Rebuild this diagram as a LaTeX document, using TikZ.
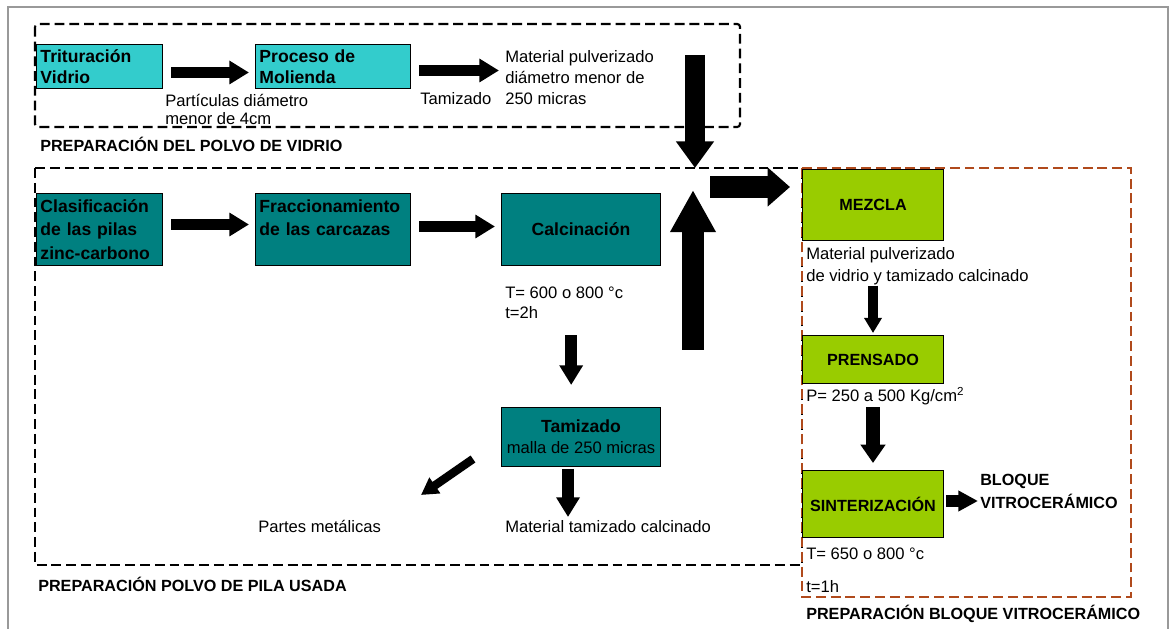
\documentclass[tikz,border=0pt]{standalone}
\usepackage{fontspec}
\setmainfont{Liberation Sans}
\usetikzlibrary{arrows.meta}
\definecolor{turquesa}{HTML}{33CCCC}
\definecolor{verdeazul}{HTML}{008080}
\definecolor{lima}{HTML}{99CC00}
\definecolor{marron}{HTML}{B04A1C}
\begin{document}
\begin{tikzpicture}[x=0.025cm, y=-0.025cm,
  caja/.style={draw=black, line width=0.7pt, anchor=north west, inner sep=2.8pt,
    font=\fontsize{12.5}{15}\selectfont\bfseries},
  texto/.style={anchor=north west, inner sep=0pt, align=left,
    font=\fontsize{11.8}{15}\selectfont},
  titulo/.style={anchor=north west, inner sep=0pt, align=left,
    font=\fontsize{11.5}{16.4}\selectfont\bfseries},
  marco/.style={line width=1.5pt, dash pattern=on 7pt off 3.5pt},
  flecha/.style={line width=8.5pt, -{Triangle[length=14pt,width=16pt]},
    shorten <=0.2cm, shorten >=0.15cm},
  flechota/.style={line width=14.5pt, -{Triangle[length=19pt,width=26pt]}}]
  \useasboundingbox (0,0) rectangle (1173,629);

  % marco exterior
  \draw[gray!80, line width=0.8pt] (8,629) -- (8,7) -- (1168,7) -- (1168,629);

  % zonas
  \draw[marco, rounded corners=2pt] (35,24) rectangle (740,127);
  \draw[marco] (35,168) rectangle (802,565);
  \draw[marco, draw=marron] (802,168) rectangle (1131,597);

  % polvo de vidrio
  \node[caja, fill=turquesa, minimum width=3.15cm, minimum height=1.1cm,
    text width=2.95cm, align=left] (trit) at (36,44) {Trituración\\Vidrio};
  \node[caja, fill=turquesa, minimum width=3.875cm, minimum height=1.1cm,
    text width=3.675cm, align=left] (proc) at (255,44) {Proceso de\\Molienda};
  \node[texto, font=\fontsize{11.8}{12.8}\selectfont] (partic) at (165,94)
    {Partículas diámetro\\menor de 4cm};
  \node[texto] (tamtxt) at (420,92) {Tamizado};
  \node[texto] (matpulv) at (505,50) {Material pulverizado\\diámetro menor de\\250 micras};
  \node[titulo] (tvidrio) at (40,137) {PREPARACIÓN DEL POLVO DE VIDRIO};

  % polvo de pila
  \node[caja, fill=verdeazul, minimum width=3.15cm, minimum height=1.8cm,
    text width=2.95cm, align=left, font=\fontsize{12.5}{16.7}\selectfont\bfseries]
    (clasif) at (36,193) {Clasificación\\de las pilas\\zinc-carbono};
  \node[caja, fill=verdeazul, minimum width=3.875cm, minimum height=1.8cm,
    text width=3.675cm, align=left, font=\fontsize{12.5}{16.7}\selectfont\bfseries]
    (fracc) at (255,193) {Fraccionamiento\\de las carcazas\\\mbox{}};
  \node[caja, fill=verdeazul, minimum width=3.975cm, minimum height=1.8cm]
    (calc) at (501,193) {Calcinación};
  \node[texto, font=\fontsize{11.8}{14.2}\selectfont] (tcalc) at (505,287)
    {T= 600 o 800 °c\\t=2h};
  \node[caja, fill=verdeazul, minimum width=3.975cm, minimum height=1.475cm,
    align=center] (tamiz) at (501,407)
    {Tamizado\\{\mdseries\fontsize{11.8}{15}\selectfont malla de 250 micras}};
  \node[texto] (partes) at (258,520) {Partes metálicas};
  \node[texto] (mattam) at (505,520) {Material tamizado calcinado};
  \node[titulo] (tpila) at (38,577) {PREPARACIÓN POLVO DE PILA USADA};

  % bloque vitroceramico
  \node[caja, fill=lima, minimum width=3.525cm, minimum height=1.775cm,
    font=\fontsize{11.5}{14}\selectfont\bfseries] (mezcla) at (802,169) {MEZCLA};
  \node[texto, font=\fontsize{11.8}{16}\selectfont] (mtext) at (806,247)
    {Material pulverizado\\de vidrio y tamizado calcinado};
  \node[caja, fill=lima, minimum width=3.525cm, minimum height=1.2cm,
    font=\fontsize{11.5}{14}\selectfont\bfseries] (prensado) at (802,335) {PRENSADO};
  \node[texto] (ptext) at (806,387) {P= 250 a 500 Kg/cm\textsuperscript{2}};
  \node[caja, fill=lima, minimum width=3.525cm, minimum height=1.675cm,
    font=\fontsize{11.5}{14}\selectfont\bfseries] (sint) at (802,470) {SINTERIZACIÓN};
  \node[texto] (stext) at (806,548) {T= 650 o 800 °c};
  \node[texto] (ttext) at (806,580) {t=1h};
  \node[titulo] (bloque) at (980,474) {BLOQUE\\VITROCERÁMICO};
  \node[titulo] (tbloque) at (806,605) {PREPARACIÓN BLOQUE VITROCERÁMICO};

  % flechas
  \draw[flecha] ([yshift=-0.15cm]trit.east) -- ([yshift=-0.15cm]proc.west);
  \draw[flecha] ([yshift=-0.1cm]proc.east) -- ([yshift=-0.1cm]proc.east -| matpulv.west);
  \draw[flecha] ([yshift=0.125cm]clasif.east) -- ([yshift=0.125cm]fracc.west);
  \draw[flecha] ([yshift=0.075cm]fracc.east) -- ([yshift=0.075cm]calc.west);
  \draw[flecha, shorten <=0.4cm, shorten >=0.55cm]
    ([xshift=0.175cm]tcalc.south) -- ([xshift=0.175cm]tcalc.south |- tamiz.north);
  \draw[flecha, shorten <=0.05cm, shorten >=0.075cm]
    ([xshift=-0.325cm]tamiz.south) -- ([xshift=-0.325cm]tamiz.south |- mattam.north);
  \coordinate (metal) at (421,495);
  \draw[flecha, line width=6pt, -{Triangle[length=12pt,width=13pt]},
    shorten <=0pt, shorten >=0pt] ([shift={(-28,-8)}]tamiz.south west) -- (metal);

  % flechas grandes
  \coordinate (vidrio) at (695,55);
  \coordinate (union) at (695,168);
  \coordinate (salida) at (710,187);
  \coordinate (subida) at (693,350);
  \draw[flechota] (vidrio) -- (union);
  \draw[flechota, line width=16pt, -{Triangle[length=16pt,width=27pt]},
    shorten >=0.3cm] (salida) -- (salida -| mezcla.west);
  \draw[flechota, line width=15pt, -{Triangle[length=30pt,width=30.5pt]},
    shorten >=0.075cm] (subida) -- (subida |- salida);

  % flechas del bloque
  \draw[flecha, line width=7pt, -{Triangle[length=10.7pt,width=12pt]},
    shorten <=0pt, shorten >=0.05cm] (prensado.north |- mtext.south) -- (prensado.north);
  \draw[flecha, line width=10pt, -{Triangle[length=13pt,width=17pt]},
    shorten <=0.05cm, shorten >=0.175cm] (sint.north |- ptext.south) -- (sint.north);
  \draw[flecha, line width=9pt, -{Triangle[length=14pt,width=14pt]},
    shorten <=0.05cm, shorten >=0.05cm]
    ([yshift=0.075cm]sint.east) -- ([yshift=0.075cm]sint.east -| bloque.west);
\end{tikzpicture}
\end{document}
